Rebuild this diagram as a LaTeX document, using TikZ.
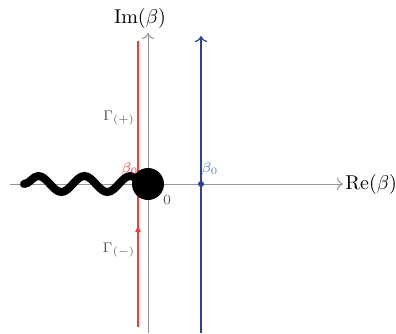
\documentclass[tikz,border=0pt]{standalone}
\usepackage{tikz}
\usetikzlibrary{arrows.meta, positioning, decorations.pathmorphing, decorations.markings}
\usepackage{amsmath}
\definecolor{axisgray}{RGB}{150,150,150}
\definecolor{textgray}{RGB}{85,85,85}
\definecolor{contred}{RGB}{245,60,60}
\definecolor{lineblue}{RGB}{45,65,155}
\definecolor{labelblue}{RGB}{95,125,200}

\begin{document}
\begin{tikzpicture}[
  x=0.5pt, y=0.5pt,
  axis/.style={axisgray, line width=0.5pt, -{To[length=3pt]}},
  contour/.style={contred, line width=0.7pt},
  midarrow/.style={postaction={decorate}, decoration={markings,
    mark=at position 0.36 with {\arrow{Latex[length=4pt,width=3pt]}}}},
  vline/.style={lineblue, line width=0.6pt, -{To[length=3pt]}},
  cut/.style={black, line width=4pt, line cap=round,
    decorate, decoration={snake, segment length=23pt, amplitude=4pt}},
  lbl/.style={font=\scriptsize, inner sep=1pt}
]
\useasboundingbox (-148,-149) rectangle (248,184);

% Axes
\coordinate (xl) at (-138,0);
\coordinate (xr) at (195,0);
\coordinate (yb) at (0,-149);
\coordinate (yt) at (0,151);
\draw[axis] (xl) -- (xr);
\draw[axis] (yb) -- (yt);
\node[anchor=west, inner sep=1pt] (re) at (xr) {Re$(\beta)$};
\node (im) at (-8,166) {Im$(\beta)$};
\node[lbl, textgray] (zero) at (19,-16) {$0$};

% Contours
\coordinate (rb) at (-10,-143);
\coordinate (rt) at (-10,143);
\draw[contour, midarrow] (rb) -- (rt);
\node[lbl, textgray] (gp) at (-29,66) {$\Gamma_{(+)}$};
\node[lbl, textgray] (gm) at (-29,-66) {$\Gamma_{(-)}$};

% Branch cut and pole
\coordinate (cs) at (-124,0);
\node[circle, fill=black, minimum size=16pt, inner sep=0pt] (pole) at (0,0) {};
\draw[cut] (cs) -- (pole.center);
\node[lbl, contred] (br) at (-18,15) {$\beta_0$};

% Shifted line
\coordinate (bb) at (53,-149);
\coordinate (bt) at (53,148);
\draw[vline] (bb) -- (bt);
\node[circle, fill=lineblue, minimum size=3pt, inner sep=0pt] (b0) at (53,0) {};
\node[lbl, labelblue] (bl) at (62,15) {$\beta_0$};

\end{tikzpicture}
\end{document}
